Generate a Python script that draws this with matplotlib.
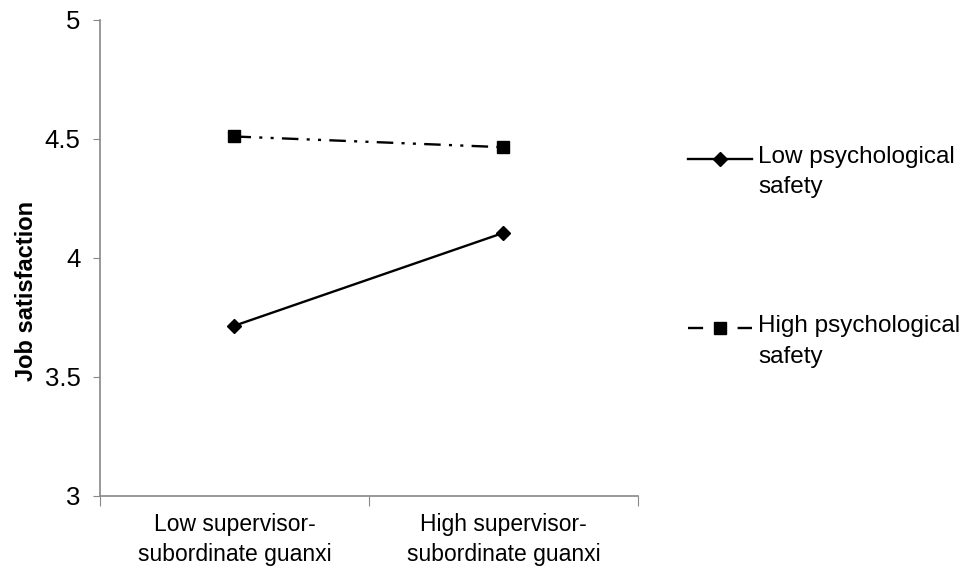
import matplotlib.pyplot as plt
from matplotlib.lines import Line2D

plt.rcParams['font.family'] = ['Liberation Sans', 'DejaVu Sans']

# Data
categories = ['Low supervisor-\nsubordinate guanxi', 'High supervisor-\nsubordinate guanxi']
low_psych = [3.715, 4.105]
high_psych = [4.51, 4.465]
y_ticks = [3, 3.5, 4, 4.5, 5]
y_tick_labels = ['3', '3.5', '4', '4.5', '5']

fig = plt.figure(figsize=(9.62, 5.68), dpi=100)
ax = fig.add_axes([0.104, 0.127, 0.559, 0.838])

xs = list(range(len(categories)))
dashdotdot = (0, (7, 3.5, 1.3, 3.5, 1.3, 3.5))

ax.plot(xs, low_psych, color='black', lw=1.7, marker='D', markersize=7.5)
ax.plot(xs, high_psych, color='black', lw=1.7, linestyle=dashdotdot,
        marker='s', markersize=8.5)

ax.set_xlim(-0.5, 1.5)
ax.set_ylim(3, 5)
ax.set_yticks(y_ticks)
ax.set_yticklabels(y_tick_labels, fontsize=18.5)

# category boundary ticks like Excel
ax.set_xticks([-0.5, 0.5, 1.5])
ax.set_xticklabels([])
ax.set_xticks(xs, minor=True)
ax.set_xticklabels(categories, minor=True, fontsize=16.5, linespacing=1.4)
ax.tick_params(axis='x', which='minor', length=0, pad=12)
ax.tick_params(axis='x', which='major', length=7, color='#888888')
ax.tick_params(axis='y', length=5, color='#888888', pad=9)

for s in ['top', 'right']:
    ax.spines[s].set_visible(False)
for s in ['left', 'bottom']:
    ax.spines[s].set_color('#888888')
    ax.spines[s].set_linewidth(1.2)

ax.set_ylabel('Job satisfaction', fontsize=17, fontweight='bold')
ax.yaxis.set_label_coords(-0.115, 0.43)

# legend drawn by hand so the handle sits on the first text line
entries = [
    ('Low psychological\nsafety', '-', 'D', 7.5, 1 - 159 / 568),
    ('High psychological\nsafety', (0, (6.4, 14.6)), 's', 8.5, 1 - 328 / 568),
]
for label, ls, mk, ms, yy in entries:
    fig.add_artist(Line2D([688 / 962, 752 / 962], [yy, yy], color='black', lw=1.7,
                          linestyle=ls))
    fig.add_artist(Line2D([720 / 962], [yy], color='black', marker=mk, markersize=ms,
                          linestyle='none'))
    fig.text(758 / 962, yy + 13 / 568, label, fontsize=17.5, va='top', ha='left',
             linespacing=1.5)

fig.savefig('out.png', dpi=100)
